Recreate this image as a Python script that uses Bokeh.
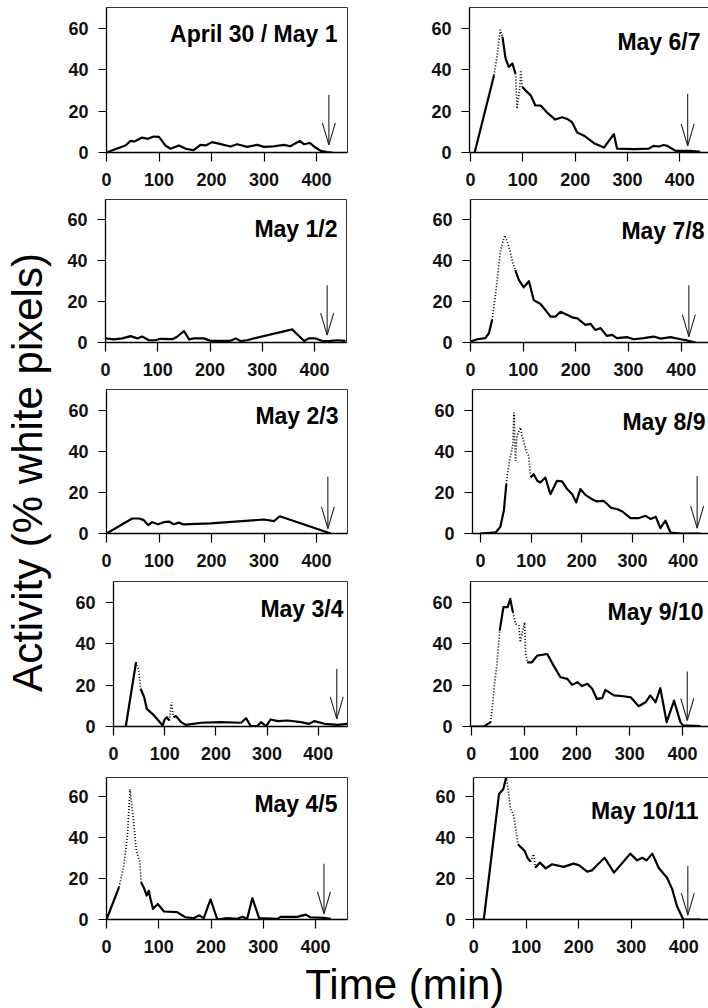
import math
from bokeh.plotting import figure
from bokeh.models import Range1d, FixedTicker, LinearAxis, ColumnDataSource, Label
from bokeh.layouts import row, column
from bokeh.core.properties import value
from bokeh.embed import file_html
from bokeh.resources import INLINE

# ---------------- data ----------------
XTICKS = [0, 100, 200, 300, 400]
YTICKS = [0, 20, 40, 60]
TITLES = ["April 30 / May 1", "May 1/2", "May 2/3", "May 3/4", "May 4/5",
          "May 6/7", "May 7/8", "May 8/9", "May 9/10", "May 10/11"]
X_LABEL = "Time (min)"
Y_LABEL = "Activity (% white pixels)"

A30_X = [0, 14, 36, 46, 53, 68, 79, 90, 100, 112, 122, 138, 150, 166, 179, 189, 201, 214, 236, 249,
         268, 287, 300, 319, 338, 350, 368, 376, 387, 398, 408, 420, 430]
A30_Y = [0, 1.3, 3.4, 5.6, 5.3, 7.2, 6.6, 7.7, 7.5, 3.4, 1.8, 3.4, 1.9, 1.1, 3.7, 3.4, 5.0, 4.3, 2.9, 4.0,
         2.7, 3.7, 2.7, 3.0, 3.7, 3.0, 5.6, 4.0, 4.6, 2.4, 0.8, 0.2, 0]
A30_DOT = []

M12_X = [0, 16, 32, 48, 61, 70, 83, 96, 105, 128, 137, 150, 160, 169, 188, 201, 239, 249, 258, 271,
         284, 357, 380, 389, 402, 415, 431, 443, 459]
M12_Y = [2.0, 1.5, 2.0, 3.1, 2.0, 2.9, 1.1, 1.1, 1.8, 1.6, 2.8, 5.6, 1.5, 2.0, 2.0, 0.8, 0.8, 2.0, 0.7, 1.1,
         2.0, 6.4, 0.7, 2.0, 2.0, 0.7, 0.8, 1.1, 0.8]
M12_DOT = []

M23_X = [0, 49, 62, 71, 79, 87, 98, 109, 119, 128, 138, 146, 198, 300, 319, 330, 427]
M23_Y = [0, 7.3, 7.3, 6.5, 4.1, 5.5, 4.5, 5.5, 5.8, 4.5, 5.3, 4.4, 4.9, 6.8, 6.0, 8.4, 0]
M23_DOT = []

M34_X = [24, 44, 50, 53, 60, 65, 76, 86, 96, 100, 104, 109, 113, 117, 122, 132, 141, 171, 210, 249,
         259, 268, 281, 288, 298, 307, 321, 340, 366, 382, 392, 412, 438, 456]
M34_Y = [0, 31.0, 26.2, 18.2, 14.1, 8.5, 6.1, 3.4, 0.5, 3.4, 4.5, 2.9, 11.7, 4.5, 5.0, 2.1, 0.8, 1.8, 2.1, 1.8,
         4.0, 0.2, 0.2, 2.1, 0.2, 3.4, 2.6, 2.9, 2.1, 1.3, 2.6, 1.3, 0.8, 1.3]
M34_DOT = [(44, 53), (109, 117)]

M45_X = [0, 24, 33, 40, 45, 52, 57, 64, 66, 71, 77, 81, 84, 89, 98, 110, 135, 151, 167, 177,
         186, 199, 212, 231, 250, 260, 269, 279, 292, 327, 333, 365, 381, 390, 416, 429]
M45_Y = [0, 15.8, 26.3, 41.0, 63.7, 47.5, 33.7, 28.0, 18.2, 15.8, 11.7, 14.1, 10.1, 5.2, 7.6, 3.9, 3.6, 1.1, 0.7, 2.0,
         0.7, 9.8, 0, 0.7, 0.3, 1.3, 0.3, 10.4, 0.7, 0.3, 1.3, 1.3, 2.4, 1.1, 0.8, 0.3]
M45_DOT = [(24, 66)]

M67_X = [8, 45, 51, 57, 61, 67, 73, 80, 86, 89, 94, 96, 99, 105, 115, 124, 134, 146, 162, 175,
         185, 194, 204, 217, 236, 255, 274, 280, 312, 341, 350, 360, 369, 376, 392, 420, 439]
M67_Y = [0, 37.3, 47.0, 59.2, 55.9, 45.4, 41.3, 43.0, 38.1, 21.1, 30.8, 39.7, 31.6, 30.0, 27.6, 22.7, 22.7, 19.4, 15.9, 17.0,
         16.2, 14.6, 9.7, 8.1, 4.5, 2.4, 8.9, 1.9, 1.6, 1.9, 3.2, 2.9, 3.6, 3.2, 0.8, 0.8, 0.3]
M67_DOT = [(45, 61), (86, 99)]

M78_X = [0, 13, 28, 35, 41, 47, 57, 65, 70, 75, 79, 85, 92, 101, 111, 120, 133, 142, 152, 161,
         171, 184, 193, 203, 218, 228, 237, 247, 259, 269, 278, 297, 310, 329, 348, 361, 380, 399, 411, 427]
M78_Y = [0.5, 1.6, 2.1, 4.5, 11.0, 22.3, 45.0, 52.3, 49.0, 45.0, 40.1, 35.3, 30.4, 26.9, 29.9, 20.7, 18.8, 15.9, 12.6, 12.6,
         15.0, 13.4, 12.3, 11.8, 8.6, 9.1, 6.1, 7.0, 3.2, 3.7, 2.1, 2.6, 1.6, 2.1, 2.9, 1.9, 2.6, 1.6, 1.0, 0]
M78_DOT = [(41, 85)]

M89_X = [0, 30, 39, 46, 51, 56, 64, 66, 69, 72, 79, 82, 91, 95, 99, 105, 112, 118, 128, 138,
         151, 161, 171, 181, 189, 197, 207, 220, 230, 243, 257, 270, 280, 296, 313, 326, 336, 346, 355, 365,
         375, 395, 434]
M89_Y = [0, 0.5, 3.2, 11.0, 24.0, 33.7, 43.4, 58.8, 35.3, 47.5, 51.5, 47.5, 39.4, 37.8, 27.2, 28.8, 25.6, 24.8, 27.2, 19.1,
         25.6, 25.3, 21.6, 19.1, 15.1, 21.6, 18.8, 16.7, 15.6, 15.9, 12.6, 11.8, 10.7, 7.5, 7.5, 8.6, 7.0, 8.1, 2.6, 6.2,
         0.5, 0, 0]
M89_DOT = [(51, 99)]

M910_X = [0, 24, 37, 40, 43, 49, 54, 61, 69, 74, 79, 84, 90, 93, 101, 103, 106, 115, 125, 144,
          156, 169, 182, 191, 201, 210, 220, 229, 238, 248, 254, 270, 289, 302, 317, 330, 339, 349, 358, 370,
          384, 396, 401, 434]
M910_Y = [0, 0, 2.1, 9.3, 17.4, 31.0, 46.3, 57.6, 57.6, 61.6, 55.1, 49.5, 48.7, 40.7, 50.3, 35.9, 31.0, 31.0, 34.2, 35.0,
          29.4, 23.8, 23.0, 20.1, 21.4, 19.5, 20.6, 18.2, 13.3, 13.7, 17.7, 15.0, 14.6, 14.1, 9.8, 11.7, 15.0, 11.7, 18.5, 2.1,
          12.5, 2.1, 0.5, 0.2]
M910_DOT = [(37, 54), (79, 106)]

M1011_X = [0, 19, 48, 56, 62, 65, 70, 75, 79, 84, 89, 97, 102, 108, 114, 117, 126, 137, 149, 171,
           190, 200, 216, 225, 235, 249, 267, 286, 298, 311, 321, 329, 340, 352, 368, 378, 387, 399, 432]
M1011_Y = [0, 0, 61.3, 63.7, 69.8, 64.5, 53.9, 51.5, 45.8, 36.8, 35.5, 33.5, 30.2, 28.3, 31.9, 25.3, 27.8, 25.0, 27.0, 25.7,
           27.3, 26.6, 23.4, 24.0, 26.6, 30.2, 22.9, 28.6, 32.2, 28.9, 30.2, 28.9, 32.2, 25.3, 20.4, 14.7, 6.5, 0, 0]
M1011_DOT = [(62, 84), (108, 117)]

# arrow (sunrise marker) per panel: x, top of shaft, tip
ARROW_X = [423.5, 424, 421.6, 436, 416, 415, 414.6, 427.6, 409, 407.6]
ARROW_TOP = [27.7, 28.0, 27.6, 27.8, 27.2, 28.4, 28.0, 28.0, 26.5, 26.1]
ARROW_TIP = [3.7, 3.6, 2.4, 3.7, 2.8, 3.2, 2.9, 2.6, 2.9, 2.1]

SERIES = [(A30_X, A30_Y, A30_DOT), (M12_X, M12_Y, M12_DOT), (M23_X, M23_Y, M23_DOT),
          (M34_X, M34_Y, M34_DOT), (M45_X, M45_Y, M45_DOT), (M67_X, M67_Y, M67_DOT),
          (M78_X, M78_Y, M78_DOT), (M89_X, M89_Y, M89_DOT), (M910_X, M910_Y, M910_DOT),
          (M1011_X, M1011_Y, M1011_DOT)]

# ---------------- layout / style ----------------
FONT = "Liberation Sans"
LEFT_W, RIGHT_W, YLAB_W = 342, 308, 58
ROW_H = [195, 191, 192, 196, 188]
ROW_BT = [7, 4, 3, 3, 3]
ROW_BB = [43, 44, 45, 48, 43]
ROW_YMAX = [70.0, 69.8, 70.0, 70.0, 69.4]
XLAB_H = 46
# border_left, border_right, xmin, xmax, title_dx, title_dy
GEOM = [
    (48, 53, 0, 459, 10, 26),
    (47, 54, 0, 461, 9, 29),
    (48, 53, 0, 459, 9, 26),
    (55, 53, 0, 457, 4, 27),
    (48, 53, 0, 461, 10, 26),
    (69, 0, -1.9, 454.8, 8, 34),
    (70, 0, 0, 451.9, 4, 31),
    (72, 0, -15.8, 450.0, 3, 32),
    (70, 0, -1.3, 449.2, 5, 30),
    (73, 0, -0.6, 447.0, 10, 33),
]


def split_series(xs, ys, dots):
    out = {True: ([], []), False: ([], [])}
    for i in range(len(xs) - 1):
        mid = 0.5 * (xs[i] + xs[i + 1])
        dotted = any(a <= mid <= b for a, b in dots)
        tx, ty = out[dotted]
        if tx and tx[-1] == xs[i] and ty[-1] == ys[i]:
            tx.append(xs[i + 1]); ty.append(ys[i + 1])
        else:
            if tx:
                tx.append(float("nan")); ty.append(float("nan"))
            tx.extend([xs[i], xs[i + 1]]); ty.extend([ys[i], ys[i + 1]])
    return out[False], out[True]


def style_axis(ax, tick_out, standoff):
    ax.major_tick_in = 0
    ax.major_tick_out = tick_out
    ax.major_label_standoff = standoff
    ax.minor_tick_line_color = None
    ax.major_label_text_font = FONT
    ax.major_label_text_font_size = "18px"
    ax.major_label_text_font_style = "bold"
    ax.major_label_text_color = "#111111"
    ax.axis_line_color = "black"
    ax.axis_line_width = 1.3
    ax.major_tick_line_color = "black"
    ax.major_tick_line_width = 1.2


def make_panel(k, right):
    bl, br, xmin, xmax, tdx, tdy = GEOM[k]
    r = k % 5
    W = RIGHT_W if right else LEFT_W
    H = ROW_H[r]
    bt, bb, ymax = ROW_BT[r], ROW_BB[r], ROW_YMAX[r]
    p = figure(width=W, height=H, x_range=Range1d(xmin, xmax), y_range=Range1d(0, ymax),
               toolbar_location=None, output_backend="svg", title=None,
               x_axis_location=None, y_axis_location=None,
               min_border_left=bl, min_border_right=br, min_border_top=bt, min_border_bottom=bb)
    p.grid.visible = False
    p.background_fill_color = "white"
    p.border_fill_color = "white"

    xa = LinearAxis(ticker=FixedTicker(ticks=XTICKS))
    ya = LinearAxis(ticker=FixedTicker(ticks=YTICKS))
    style_axis(xa, 9, 11)
    style_axis(ya, 8, 10)
    p.add_layout(xa, "below")
    p.add_layout(ya, "left")

    if right:
        p.outline_line_color = None
        top = LinearAxis(ticker=FixedTicker(ticks=[]), major_label_text_font_size="0px",
                         major_tick_out=0, major_tick_in=0, minor_tick_out=0, minor_tick_in=0,
                         major_label_standoff=0, axis_line_color="#333333", axis_line_width=1)
        p.add_layout(top, "above")
    else:
        p.outline_line_color = "#333333"
        p.outline_line_width = 1

    xs, ys, dots = SERIES[k]
    (sx, sy), (dx, dy) = split_series(xs, ys, dots)
    if sx:
        p.line(sx, sy, line_color="black", line_width=2.2, line_join="round")
    if dx:
        p.line(dx, dy, line_color="black", line_width=1.7, line_dash="1 2")

    # arrow
    fw = W - bl - br
    fh = H - bt - bb
    dxpp = (xmax - xmin) / fw
    dypp = ymax / fh
    ax_, at, tip = ARROW_X[k], ARROW_TOP[k], ARROW_TIP[k]
    hw, hl = 6.5 * dxpp, 22 * dypp
    src = ColumnDataSource(dict(x0=[ax_, ax_ - hw, ax_ + hw], y0=[at, tip + hl, tip + hl],
                                x1=[ax_, ax_, ax_], y1=[tip, tip, tip]))
    p.segment("x0", "y0", "x1", "y1", source=src, line_color="#222222", line_width=1.1)

    p.add_layout(Label(x=xmax, y=ymax, x_offset=-tdx, y_offset=-tdy, text=TITLES[k],
                       text_align="right", text_baseline="alphabetic",
                       text_font=FONT, text_font_style="bold", text_font_size="23px",
                       text_color="black"))
    return p


panels = [make_panel(k, k >= 5) for k in range(10)]
rows = [row(panels[i], panels[i + 5]) for i in range(5)]
grid = column(*rows)

total_h = sum(ROW_H)
yfig = figure(width=YLAB_W, height=total_h, x_range=Range1d(0, 1), y_range=Range1d(0, 1),
              toolbar_location=None, output_backend="svg", min_border=0, title=None,
              x_axis_location=None, y_axis_location=None)
yfig.grid.visible = False
yfig.outline_line_color = None
yfig.text(x=[0.457], y=[1 - 472 / total_h], text=[Y_LABEL], angle=math.pi / 2, text_align="center",
          text_baseline="middle", text_font=value(FONT), text_font_size="42px", text_color="black")

xfig = figure(width=LEFT_W + RIGHT_W + YLAB_W, height=XLAB_H, x_range=Range1d(0, 1),
              y_range=Range1d(0, XLAB_H), title=None,
              toolbar_location=None, output_backend="svg", min_border=0,
              x_axis_location=None, y_axis_location=None)
xfig.grid.visible = False
xfig.outline_line_color = None
xfig.text(x=[0.571], y=[24], text=[X_LABEL], text_align="center", text_baseline="middle",
          text_font=value(FONT), text_font_size="42px", text_color="black")

layout = column(row(yfig, grid), xfig)
open("out.html", "w").write(file_html(layout, INLINE))
